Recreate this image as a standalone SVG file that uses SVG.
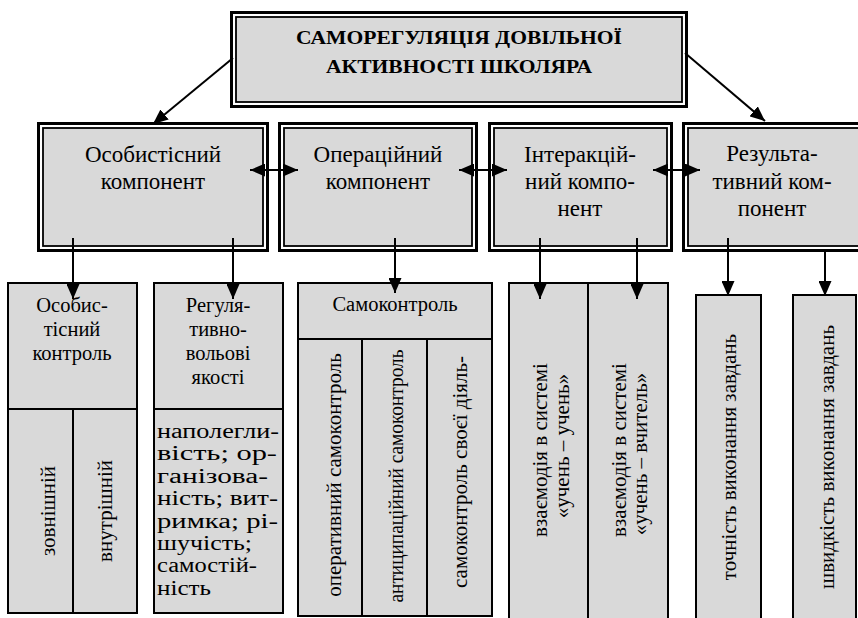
<svg xmlns="http://www.w3.org/2000/svg" width="858" height="618" viewBox="0 0 858 618" font-family="'Liberation Serif', 'Times New Roman', 'DejaVu Serif', serif">
<style>
.bg{fill:#ffffff}
.outer{fill:#ffffff;stroke:#000;stroke-width:3}
.inner{fill:#d9d9d9;stroke:#000;stroke-width:1.8}
.box{fill:#d9d9d9;stroke:#000;stroke-width:2}
.div{stroke:#000;stroke-width:2;fill:none}
text{font-family:'Liberation Serif', 'Times New Roman', 'DejaVu Serif', serif;fill:#000}
.title{font-size:18.5px;font-weight:bold;text-anchor:middle}
.comp{font-size:23px;text-anchor:middle}
.sub{font-size:20.5px;text-anchor:middle}
.body{font-size:20px}
.vert{font-size:21px;text-anchor:middle}
.con{stroke:#000;stroke-width:2;fill:none}
</style>
<defs>
<marker id="ah" viewBox="0 0 15 13" refX="15" refY="6.5" markerWidth="15" markerHeight="13" markerUnits="userSpaceOnUse" orient="auto-start-reverse">
<path d="M0,0 L15,6.5 L0,13 z" fill="#000"/>
</marker>
</defs>
<rect class="bg" x="0" y="0" width="858" height="618"/>

<g id="root">
<rect class="outer" x="231.5" y="12.5" width="455" height="94"/>
<rect class="inner" x="236" y="17" width="446" height="85"/>
<text class="title" x="459" y="44" textLength="326" lengthAdjust="spacingAndGlyphs">САМОРЕГУЛЯЦІЯ ДОВІЛЬНОЇ</text>
<text class="title" x="459" y="72.5" textLength="266" lengthAdjust="spacingAndGlyphs">АКТИВНОСТІ ШКОЛЯРА</text>
</g>

<g id="comp1">
<rect class="outer" x="38.5" y="123.5" width="229" height="127"/>
<rect class="inner" x="43" y="128" width="220" height="118"/>
<text class="comp" x="153" y="162">Особистісний</text>
<text class="comp" x="153" y="189">компонент</text>
</g>

<g id="comp2">
<rect class="outer" x="279.5" y="123.5" width="197" height="127"/>
<rect class="inner" x="284" y="128" width="188" height="118"/>
<text class="comp" x="378" y="162">Операційний</text>
<text class="comp" x="378" y="189">компонент</text>
</g>

<g id="comp3">
<rect class="outer" x="489.5" y="123.5" width="182" height="127"/>
<rect class="inner" x="494" y="128" width="173" height="118"/>
<text class="comp" x="580" y="162">Інтеракцій-</text>
<text class="comp" x="580" y="189">ний компо-</text>
<text class="comp" x="580" y="216">нент</text>
</g>

<g id="comp4">
<rect class="outer" x="683.5" y="123.5" width="180" height="127"/>
<rect class="inner" x="688" y="128" width="172" height="118"/>
<text class="comp" x="772" y="161">Результа-</text>
<text class="comp" x="772" y="188.5">тивний ком-</text>
<text class="comp" x="772" y="216">понент</text>
</g>

<g id="personalControl">
<rect class="box" x="8" y="283" width="129" height="330"/>
<path class="div" d="M8,409 H137 M73,409 V613"/>
<text class="sub" x="72" y="312">Особис-</text>
<text class="sub" x="72" y="336">тісний</text>
<text class="sub" x="72" y="360">контроль</text>
<text class="vert" transform="translate(55,511) rotate(-90)">зовнішній</text>
<text class="vert" transform="translate(112,511) rotate(-90)">внутрішній</text>
</g>

<g id="volitional">
<rect class="box" x="154" y="283" width="129" height="330"/>
<path class="div" d="M154,409 H283"/>
<text class="sub" x="218" y="312">Регуля-</text>
<text class="sub" x="218" y="336">тивно-</text>
<text class="sub" x="218" y="360">вольові</text>
<text class="sub" x="218" y="384">якості</text>
<text class="body" x="157" y="438" textLength="122" lengthAdjust="spacingAndGlyphs">наполегли-</text>
<text class="body" x="157" y="460.4" textLength="120" lengthAdjust="spacingAndGlyphs">вість; ор-</text>
<text class="body" x="157" y="482.8" textLength="111" lengthAdjust="spacingAndGlyphs">ганізова-</text>
<text class="body" x="157" y="505.2" textLength="121" lengthAdjust="spacingAndGlyphs">ність; вит-</text>
<text class="body" x="157" y="527.6" textLength="121" lengthAdjust="spacingAndGlyphs">римка; рі-</text>
<text class="body" x="157" y="550" textLength="95" lengthAdjust="spacingAndGlyphs">шучість;</text>
<text class="body" x="157" y="572.4" textLength="100" lengthAdjust="spacingAndGlyphs">самостій-</text>
<text class="body" x="157" y="594.8" textLength="54" lengthAdjust="spacingAndGlyphs">ність</text>
</g>

<g id="selfControl">
<rect class="box" x="298" y="283" width="194" height="333"/>
<path class="div" d="M298,339 H492 M362,339 V616 M427,339 V616"/>
<text class="sub" x="395" y="311">Самоконтроль</text>
<text class="vert" transform="translate(341,475) rotate(-90)">оперативний самоконтроль</text>
<text class="vert" transform="translate(403,476) rotate(-90)" textLength="253" lengthAdjust="spacingAndGlyphs">антиципаційний самоконтроль</text>
<text class="vert" transform="translate(467,472) rotate(-90)">самоконтроль своєї діяль-</text>
</g>

<g id="interaction">
<rect class="box" x="509" y="283" width="159" height="345"/>
<path class="div" d="M588,283 V630"/>
<text class="vert" transform="translate(547,450) rotate(-90)">взаємодія в системі</text>
<text class="vert" transform="translate(569,446) rotate(-90)">«учень – учень»</text>
<text class="vert" transform="translate(626,450) rotate(-90)">взаємодія в системі</text>
<text class="vert" transform="translate(647,454) rotate(-90)">«учень – вчитель»</text>
</g>

<g id="accuracy">
<rect class="box" x="696" y="295" width="65" height="340"/>
<text class="vert" transform="translate(736,457) rotate(-90)">точність виконання  завдань</text>
</g>

<g id="speed">
<rect class="box" x="793" y="295" width="63" height="340"/>
<text class="vert" transform="translate(834,457) rotate(-90)">швидкість виконання  завдань</text>
</g>

<g id="connectors">
<line class="con" x1="233" y1="58" x2="153" y2="124" marker-end="url(#ah)"/>
<line class="con" x1="685" y1="53" x2="765" y2="121" marker-end="url(#ah)"/>
<line class="con" x1="250" y1="170" x2="298" y2="170" marker-start="url(#ah)" marker-end="url(#ah)"/>
<line class="con" x1="459" y1="170" x2="507" y2="170" marker-start="url(#ah)" marker-end="url(#ah)"/>
<line class="con" x1="653" y1="170" x2="700" y2="170" marker-start="url(#ah)" marker-end="url(#ah)"/>
<line class="con" x1="73" y1="238" x2="73" y2="299" marker-end="url(#ah)"/>
<line class="con" x1="233" y1="238" x2="233" y2="299" marker-end="url(#ah)"/>
<line class="con" x1="395" y1="238" x2="395" y2="293" marker-end="url(#ah)"/>
<line class="con" x1="540" y1="238" x2="540" y2="299" marker-end="url(#ah)"/>
<line class="con" x1="637" y1="238" x2="637" y2="299" marker-end="url(#ah)"/>
<line class="con" x1="728" y1="238" x2="728" y2="296" marker-end="url(#ah)"/>
<line class="con" x1="825" y1="249" x2="825" y2="296" marker-end="url(#ah)"/>
</g>
</svg>
